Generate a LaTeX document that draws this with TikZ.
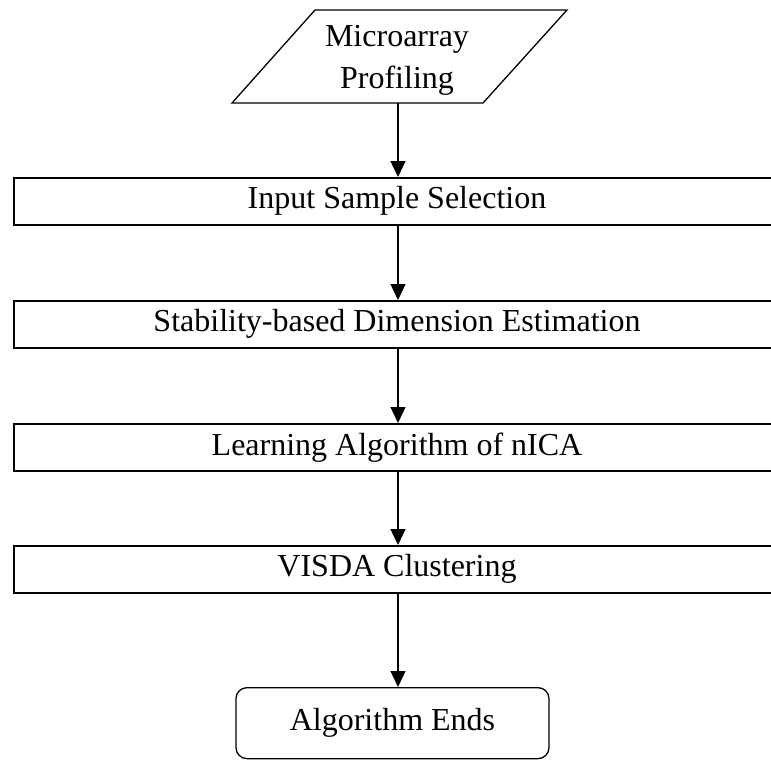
\documentclass[tikz,border=0pt]{standalone}
\usepackage{fontspec}
\setmainfont{Liberation Serif}
\usetikzlibrary{arrows.meta}
\begin{document}
\begin{tikzpicture}[x=1pt,y=-1pt,
  every node/.style={font=\fontsize{32}{42}\selectfont, inner sep=0pt},
  stage/.style={draw, line width=1.6pt, minimum width=766pt, minimum height=47pt, anchor=north},
  flow/.style={line width=1.3pt, -{Triangle[width=15pt,length=16pt]}},
  finish/.style={draw, line width=1.3pt, rounded corners=11pt, minimum width=313pt, minimum height=71pt, anchor=north}
]
\useasboundingbox (0,0) rectangle (771,760);
\clip (0,0) rectangle (771,760);

% input parallelogram
\coordinate (pa) at (232,103);
\coordinate (pb) at (483,103);
\coordinate (pc) at (567,10);
\coordinate (pd) at (315,10);
\draw[line width=1.3pt] (pa) -- (pb) -- (pc) -- (pd) -- cycle;
\node[align=center] (prof) at (397,60) {Microarray\\Profiling};

% processing stages
\node[stage] (s1) at (397,177) {Input Sample Selection};
\node[stage] (s2) at (397,300) {Stability-based Dimension Estimation};
\node[stage] (s3) at (397,423) {Learning Algorithm of nICA};
\node[stage] (s4) at (397,545) {VISDA Clustering};

% terminal
\node[finish] (end) at (392.5,687) {Algorithm Ends};

% connector ends on the common vertical line x = 398
\coordinate (c0) at (398,103);
\coordinate (c1t) at (398,177);
\coordinate (c1b) at (398,224);
\coordinate (c2t) at (398,300);
\coordinate (c2b) at (398,347);
\coordinate (c3t) at (398,423);
\coordinate (c3b) at (398,470);
\coordinate (c4t) at (398,545);
\coordinate (c4b) at (398,592);
\coordinate (c5t) at (398,687);

% connectors
\draw[flow] (c0) -- (c1t);
\draw[flow] (c1b) -- (c2t);
\draw[flow] (c2b) -- (c3t);
\draw[flow] (c3b) -- (c4t);
\draw[flow] (c4b) -- (c5t);
\end{tikzpicture}
\end{document}
